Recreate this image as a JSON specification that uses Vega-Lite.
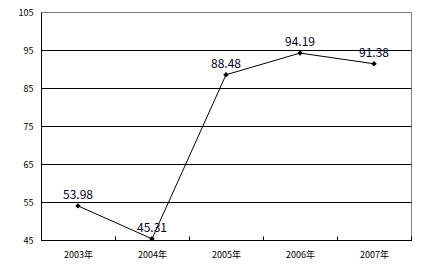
{
  "$schema": "https://vega.github.io/schema/vega-lite/v6.json",
  "width": 370,
  "height": 228,
  "autosize": {"type": "none"},
  "padding": {"left": 41, "top": 12, "right": 13, "bottom": 39},
  "background": "white",
  "config": {
    "view": {"stroke": "#808080", "strokeWidth": 1},
    "font": "Noto Sans CJK SC"
  },
  "data": {
    "values": [
      {"year": "2003年", "value": 53.98},
      {"year": "2004年", "value": 45.31},
      {"year": "2005年", "value": 88.48},
      {"year": "2006年", "value": 94.19},
      {"year": "2007年", "value": 91.38}
    ]
  },
  "encoding": {
    "x": {
      "field": "year",
      "type": "ordinal",
      "scale": {"paddingInner": 0, "paddingOuter": 0},
      "axis": {
        "title": null,
        "labelAngle": 0,
        "labelFontSize": 9,
        "labelColor": "black",
        "labelPadding": 14,
        "domainColor": "black",
        "tickColor": "black",
        "tickBand": "extent",
        "tickSize": -4,
        "grid": false
      }
    },
    "y": {
      "field": "value",
      "type": "quantitative",
      "scale": {"domain": [45, 105], "nice": false, "zero": false},
      "axis": {
        "title": null,
        "values": [45, 55, 65, 75, 85, 95, 105],
        "labelFontSize": 9,
        "labelColor": "black",
        "labelPadding": 8,
        "ticks": false,
        "domainColor": "black",
        "grid": true,
        "gridColor": {"condition": {"test": "datum.value == 105", "value": "#808080"}, "value": "black"},
        "gridOpacity": 1
      }
    }
  },
  "layer": [
    {"mark": {"type": "line", "color": "black", "strokeWidth": 1}},
    {"mark": {"type": "point", "shape": "diamond", "filled": true, "color": "black", "size": 30, "opacity": 1}},
    {
      "mark": {"type": "text", "dy": -11, "fontSize": 12, "color": "#000022"},
      "encoding": {"text": {"field": "value", "type": "quantitative", "format": ".2f"}}
    }
  ]
}
